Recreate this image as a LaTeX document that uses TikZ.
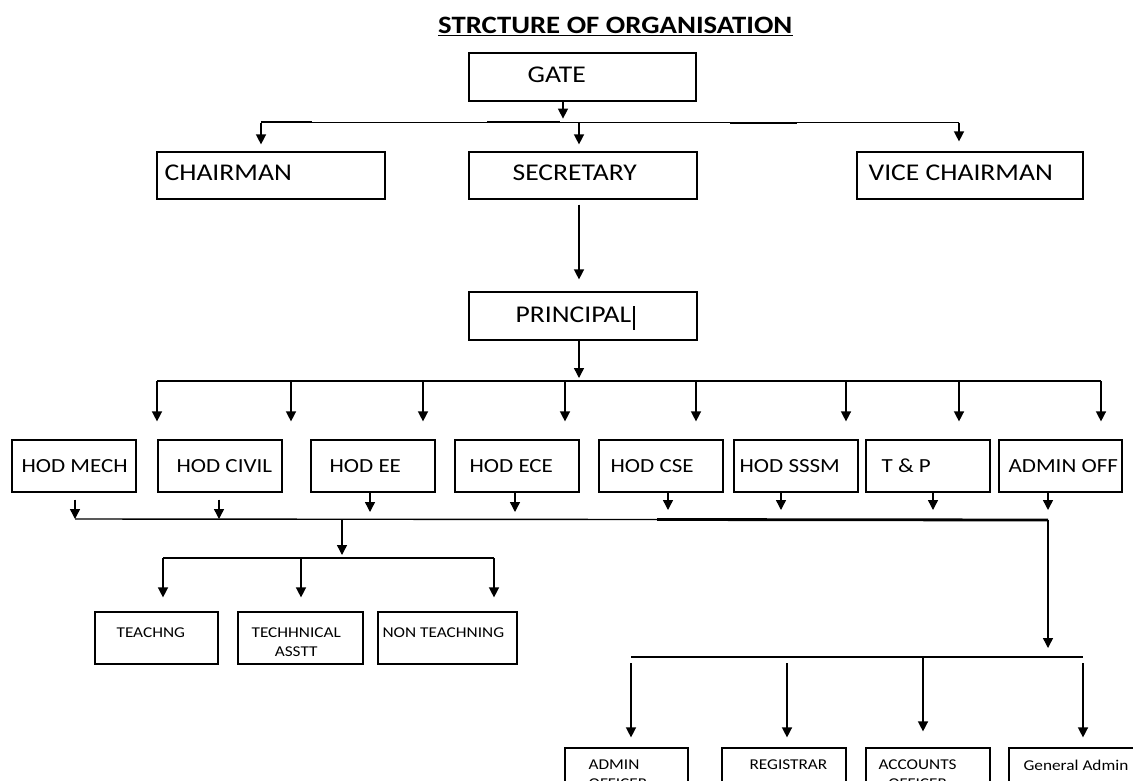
\documentclass[tikz,border=0pt]{standalone}
\usepackage{fontspec}
\setmainfont{Carlito}[FakeStretch=1.15]
\usetikzlibrary{arrows.meta}

\tikzset{
	orgbox/.style 2 args={draw, line width=1.2pt, minimum width=#1, minimum height=#2, inner sep=0pt},
	boxtext/.style={anchor=west, inner sep=0pt, align=left},
	bigtext/.style={boxtext, font=\fontsize{24}{28}\selectfont},
	hodtext/.style={boxtext, font=\fontsize{20}{24}\selectfont},
	smalltext/.style={boxtext, font=\fontsize{15}{19}\selectfont},
	wire/.style={line width=1.4pt},
	heavy/.style={line width=2.8pt},
	arr/.style={line width=1.4pt, -{Triangle[width=10pt,length=10pt]}},
}

\begin{document}
\begin{tikzpicture}[x=1pt, y=-1pt]
			%%%%% START %%%%%
			
			\useasboundingbox (0,0) rectangle (1133,780);
			\clip (0,0) rectangle (1133,780);
			\fill[white] (0,0) rectangle (1133,780);
			
			\node[font=\bfseries\fontsize{25}{30}\selectfont, anchor=base west, inner sep=0pt] (title) at (438,33) {STRCTURE OF ORGANISATION};
			\draw[line width=1.5pt] ([yshift=-2.5pt]title.base west) -- ([yshift=-2.5pt]title.base east);
			
			\node[orgbox={227pt}{48pt}, label={[bigtext, xshift=59pt, yshift=2.5pt]west:GATE}] (gate) at (582.5,77) {};
			
			\node[orgbox={228pt}{47pt}, label={[bigtext, xshift=8pt, yshift=3pt]west:CHAIRMAN}] (chair) at (271,175.5) {};
			\node[orgbox={228pt}{47pt}, label={[bigtext, xshift=44pt, yshift=3pt]west:SECRETARY}] (secr) at (583,175.5) {};
			\node[orgbox={226pt}{47pt}, label={[bigtext, xshift=12pt, yshift=3pt]west:VICE CHAIRMAN}] (vice) at (970,175.5) {};
			
			\node[orgbox={228pt}{48pt}, label={[bigtext, xshift=47pt, yshift=1pt]west:PRINCIPAL\hspace{1.5pt}\smash{\rule[-7pt]{2.6pt}{24pt}}}] (princ) at (583,316) {};
			
			\node[orgbox={124pt}{52pt}, label={[hodtext, xshift=10pt]west:HOD MECH}] (mech) at (74,466) {};
			\node[orgbox={124pt}{52pt}, label={[hodtext, xshift=19pt]west:HOD CIVIL}] (civil) at (220,466) {};
			\node[orgbox={124pt}{52pt}, label={[hodtext, xshift=19pt]west:HOD EE}] (ee) at (373,466) {};
			\node[orgbox={124pt}{52pt}, label={[hodtext, xshift=15pt]west:HOD ECE}] (ece) at (517,466) {};
			\node[orgbox={124pt}{52pt}, label={[hodtext, xshift=12pt]west:HOD CSE}] (cse) at (661,466) {};
			\node[orgbox={124pt}{52pt}, label={[hodtext, xshift=6pt]west:HOD SSSM}] (sssm) at (796,466) {};
			\node[orgbox={124pt}{52pt}, label={[hodtext, xshift=16pt]west:T \& P}] (tnp) at (928,466) {};
			\node[orgbox={123pt}{52pt}, label={[hodtext, xshift=10pt]west:ADMIN OFF}] (adminoff) at (1060.5,466) {};
			
			\node[orgbox={123pt}{52pt}, label={[smalltext, xshift=22pt, yshift=5pt]west:TEACHNG}] (teach) at (156.5,638) {};
			\node[orgbox={125pt}{52pt}, label={[smalltext, align=center, xshift=14pt, yshift=-4.5pt]west:TECHHNICAL\\ASSTT}] (tech) at (300.5,638) {};
			\node[orgbox={139pt}{52pt}, label={[smalltext, xshift=5pt, yshift=5pt]west:NON TEACHNING}] (nonteach) at (447.5,638) {};
			
			\node[orgbox={123pt}{62pt}, label={[smalltext, anchor=north west, xshift=24pt, yshift=-12pt]north west:ADMIN\\OFFICER}] (aoffcr) at (626.5,779) {};
			\node[orgbox={124pt}{62pt}, label={[smalltext, anchor=north west, xshift=28pt, yshift=-12pt]north west:REGISTRAR}] (regis) at (784,779) {};
			\node[orgbox={124pt}{62pt}, label={[smalltext, align=center, anchor=north west, xshift=13pt, yshift=-12pt]north west:ACCOUNTS\\OFFICER}] (accts) at (928,779) {};
			\node[orgbox={131pt}{62pt}, label={[smalltext, anchor=north west, xshift=15pt, yshift=-12pt]north west:General Admin}] (genad) at (1074.5,779) {};
			
			%%%%% LINES %%%%%
			
			\coordinate (b0w) at (261,122.5);
			\coordinate (b0m) at (579,122.5);
			\coordinate (b0e) at (959,122.5);
			\draw[arr] ([xshift=-19.5pt]gate.south) -- ++(0,17);
			\draw[wire] (b0w) -- (b0e);
			\draw[heavy] (261,122) -- (312,122);
			\draw[heavy] (487,122) -- (560,122);
			\draw[heavy] (730,123) -- (797,123);
			\draw[arr, shorten >=7pt] (b0w) -- (b0w |- chair.north);
			\draw[arr, shorten >=7pt] (b0m) -- (b0m |- secr.north);
			\draw[arr, shorten >=10pt] (b0e) -- (b0e |- vice.north);
			
			\draw[arr, shorten <=5pt, shorten >=12pt] (b0m |- secr.south) -- (b0m |- princ.north);
			
			\coordinate (b1w) at (157,381);
			\coordinate (b1e) at (1101,381);
			\draw[arr, shorten >=3pt] (b0m |- princ.south) -- (b0m |- b1w);
			\draw[wire] (b1w) -- (b1e);
			\foreach \x in {157,291,423,565,696,846,959,1101}{
				\coordinate (t\x) at (\x,381);
				\draw[arr, shorten >=18pt] (t\x) -- (t\x |- mech.north);
			}
			
			\coordinate (b2w) at (75,519);
			\coordinate (b2c) at (219,519);
			\coordinate (b2t) at (342,519);
			\coordinate (b2j) at (657,519.5);
			\coordinate (b2e) at (1048,520);
			\draw[arr, shorten <=7pt] (mech.south -| b2w) -- (b2w);
			\draw[arr, shorten <=7pt] (civil.south -| b2c) -- (b2c);
			\draw[arr, shorten >=7pt] ([xshift=-3pt]ee.south) -- ([xshift=-3pt]ee.south |- b2w);
			\draw[arr, shorten >=7pt] ([xshift=-2pt]ece.south) -- ([xshift=-2pt]ece.south |- b2w);
			\draw[arr, shorten >=10pt] ([xshift=7pt]cse.south) -- ([xshift=7pt]cse.south |- b2e);
			\draw[arr, shorten >=10pt] ([xshift=-15pt]sssm.south) -- ([xshift=-15pt]sssm.south |- b2e);
			\draw[arr, shorten >=10pt] ([xshift=5pt]tnp.south) -- ([xshift=5pt]tnp.south |- b2e);
			\draw[arr, shorten >=10pt] ([xshift=-12.5pt]adminoff.south) -- ([xshift=-12.5pt]adminoff.south |- b2e);
			\draw[wire] (b2w) -- (b2j);
			\draw[heavy] (b2j) -- (b2e);
			
			\coordinate (b3w) at (163,558);
			\coordinate (b3m) at (301,558);
			\coordinate (b3e) at (494,558);
			\draw[arr, shorten >=3pt] (b2t) -- (b2t |- b3w);
			\draw[wire] (b3w) -- (b3e);
			\draw[heavy] (b3w) -- (239,558);
			\draw[arr, shorten >=14pt] (b3w) -- (b3w |- teach.north);
			\draw[arr, shorten >=14pt] (b3m) -- (b3m |- tech.north);
			\draw[arr, shorten >=14pt] (b3e) -- (b3e |- nonteach.north);
			
			\coordinate (b4w) at (631,657);
			\coordinate (b4r) at (787,657);
			\coordinate (b4a) at (923,657);
			\coordinate (b4e) at (1083,657);
			\draw[arr, shorten >=9pt] (b2e) -- (b2e |- b4w);
			\draw[wire] (b4w) -- (b4e);
			\draw[arr, shorten <=6pt, shorten >=10pt] (b4w) -- (b4w |- aoffcr.north);
			\draw[arr, shorten <=6pt, shorten >=10pt] (b4r) -- (b4r |- regis.north);
			\draw[arr, shorten >=16pt] (b4a) -- (b4a |- accts.north);
			\draw[arr, shorten <=6pt, shorten >=10pt] (b4e) -- (b4e |- genad.north);
			
			%%%%% END %%%%%
\end{tikzpicture}
\end{document}
